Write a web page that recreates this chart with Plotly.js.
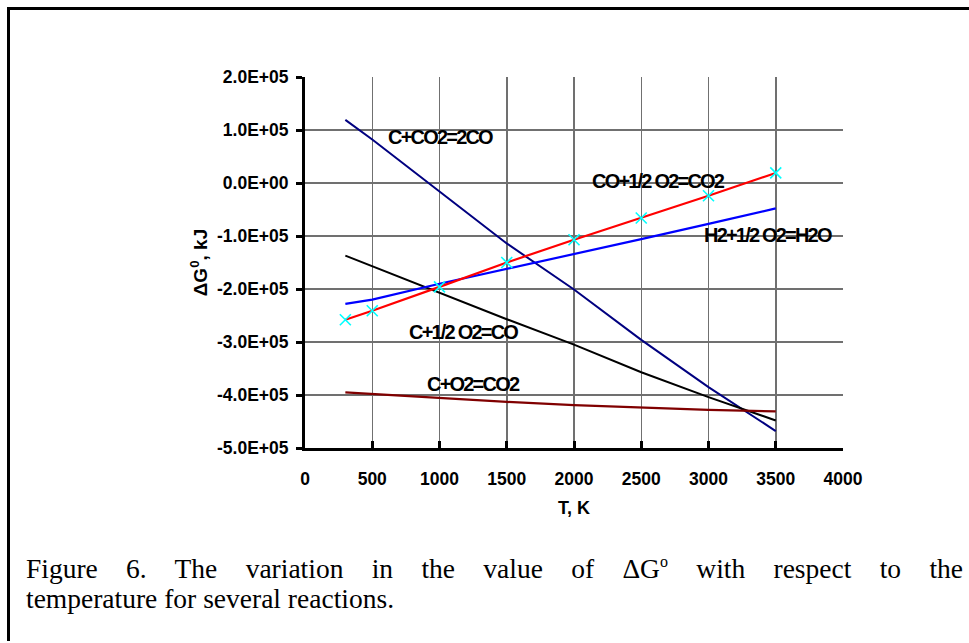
<!DOCTYPE html>
<html>
<head>
<meta charset="utf-8">
<script src="https://cdn.plot.ly/plotly-3.0.1.min.js"></script>
<style>
  html, body { margin: 0; padding: 0; background: #ffffff; }
  #wrap { position: relative; width: 969px; height: 643px; overflow: hidden; background: #fff; }
  #frame { position: absolute; left: 7px; top: 7px; width: 1000px; height: 634px;
           border-left: 3px solid #000; border-top: 3px solid #000; box-sizing: border-box; }
  #chart { position: absolute; left: 0; top: 0; width: 969px; height: 643px; }
  #caption { position: absolute; left: 26px; top: 554px; width: 937px;
             font-family: "Liberation Serif", "Times New Roman", serif; font-size: 27.5px;
             line-height: 30px; color: #000; }
  #caption .l1 { text-align: justify; text-align-last: justify; white-space: nowrap; }
  #caption sup { font-size: 16px; line-height: 0; vertical-align: 11px; }
  .annotation-text { letter-spacing: -1.8px; }
</style>
</head>
<body>
<div id="wrap">
  <div id="frame"></div>
  <div id="chart"></div>
  <div id="caption">
    <div class="l1">Figure 6. The variation in the value of ΔG<sup>o</sup> with respect to the</div>
    <div class="l2">temperature for several reactions.</div>
  </div>
</div>
<script>
// ---- data ----
const T = [300, 500, 1000, 1500, 2000, 2500, 3000, 3500];
const dG_C_CO2_2CO   = [119000, 82000, -16000, -114000, -201000, -296000, -385000, -468000];
const dG_CO_O2_CO2   = [-258000, -241000, -196000, -150000, -107000, -66000, -24000, 19000];
const dG_H2_O2_H2O   = [-228000, -220000, -190000, -162000, -135000, -106000, -77000, -48000];
const dG_C_O2_CO     = [-137000, -157000, -206000, -257000, -305000, -357000, -404000, -448000];
const dG_C_O2_CO2    = [-395000, -398000, -406000, -413000, -419000, -424000, -428000, -431000];

const reactionNames = ["C+CO2=2CO", "CO+1/2 O2=CO2", "H2+1/2 O2=H2O", "C+1/2 O2=CO", "C+O2=CO2"];

const xTickVals = [0, 500, 1000, 1500, 2000, 2500, 3000, 3500, 4000];
const xTickText = ["0", "500", "1000", "1500", "2000", "2500", "3000", "3500", "4000"];
const yTickVals = [-500000, -400000, -300000, -200000, -100000, 0, 100000, 200000];
const yTickText = ["-5.0E+05", "-4.0E+05", "-3.0E+05", "-2.0E+05", "-1.0E+05", "0.0E+00", "1.0E+05", "2.0E+05"];

// ---- traces ----
const traces = [
  { x: T, y: dG_C_CO2_2CO, mode: "lines", name: reactionNames[0],
    line: { color: "#000080", width: 2 } },
  { x: T, y: dG_C_O2_CO, mode: "lines", name: reactionNames[3],
    line: { color: "#000000", width: 2 } },
  { x: T, y: dG_C_O2_CO2, mode: "lines", name: reactionNames[4],
    line: { color: "#800000", width: 2.2 } },
  { x: T, y: dG_H2_O2_H2O, mode: "lines", name: reactionNames[2],
    line: { color: "#0000FF", width: 2.2 } },
  { x: T, y: dG_CO_O2_CO2, mode: "lines+markers", name: reactionNames[1],
    line: { color: "#FF0000", width: 2.2 },
    marker: { symbol: "x-thin-open", size: 11, color: "#00FFFF", line: { color: "#00FFFF", width: 1.6 } } }
];

const labelFont = { family: "Liberation Sans, Arial, sans-serif", size: 20, color: "#000", weight: 700 };
const annotations = [
  { x: 1011, y: 87000,   text: reactionNames[0] },
  { x: 2625, y: 4000,    text: reactionNames[1] },
  { x: 3439, y: -98000,  text: reactionNames[2] },
  { x: 1175, y: -282000, text: reactionNames[3] },
  { x: 1253, y: -380000, text: reactionNames[4] }
].map(a => Object.assign(a, { xref: "x", yref: "y", showarrow: false,
   xanchor: "center", yanchor: "middle", font: labelFont }));

const tickFont = { family: "Liberation Sans, Arial, sans-serif", size: 17.5, color: "#000", weight: 700 };

const layout = {
  width: 969, height: 643,
  margin: { l: 305, r: 126, t: 77, b: 195, pad: 0 },
  paper_bgcolor: "rgba(0,0,0,0)",
  plot_bgcolor: "#ffffff",
  showlegend: false,
  xaxis: {
    range: [0, 4000], tickvals: xTickVals, ticktext: xTickText,
    showgrid: true, gridcolor: "#707070", gridwidth: 1.5,
    zeroline: false, showline: true, linecolor: "#000", linewidth: 3,
    ticks: "inside", ticklen: 7, tickwidth: 3, tickcolor: "#000",
    tickfont: tickFont, ticklabelstandoff: 13,
    title: { text: "T, K", font: { family: "Liberation Sans, Arial, sans-serif", size: 18, color: "#000", weight: 700 }, standoff: 14 }
  },
  yaxis: {
    range: [-500000, 200000], tickvals: yTickVals, ticktext: yTickText,
    showgrid: true, gridcolor: "#707070", gridwidth: 1.5,
    zeroline: false, showline: true, linecolor: "#000", linewidth: 3,
    ticks: "outside", ticklen: 6, tickwidth: 3, tickcolor: "#000",
    tickfont: tickFont, ticklabelstandoff: 4,
    title: { text: "ΔG<sup>0</sup>, kJ", font: { family: "Liberation Sans, Arial, sans-serif", size: 19, color: "#000", weight: 700 }, standoff: 5 }
  },
  annotations: annotations
};

Plotly.newPlot("chart", traces, layout, { displayModeBar: false, staticPlot: true });
</script>
</body>
</html>
